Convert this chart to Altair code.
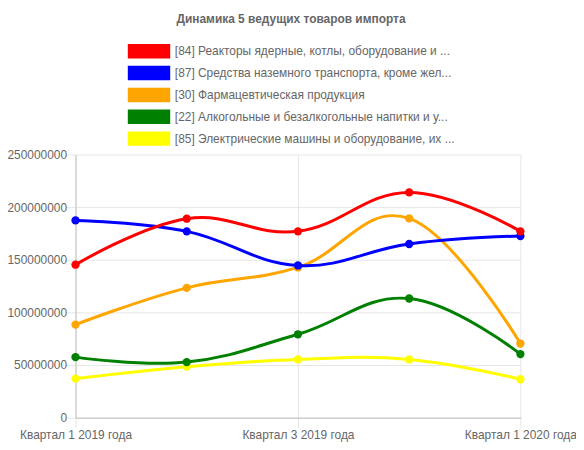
import altair as alt
import pandas as pd

quarters = ["Квартал 1 2019 года", "Квартал 2 2019 года", "Квартал 3 2019 года",
            "Квартал 4 2019 года", "Квартал 1 2020 года"]
shown_quarters = [quarters[0], quarters[2], quarters[4]]
series_names = [
    "[84] Реакторы ядерные, котлы, оборудование и ...",
    "[87] Средства наземного транспорта, кроме жел...",
    "[30] Фармацевтическая продукция",
    "[22] Алкогольные и безалкогольные напитки и у...",
    "[85] Электрические машины и оборудование, их ...",
]
colors = ["#ff0000", "#0000ff", "#ffa500", "#008000", "#ffff00"]
reactors = [145300000, 189000000, 177000000, 214000000, 177000000]
vehicles = [187400000, 177000000, 144600000, 165000000, 172600000]
pharma = [88400000, 123300000, 142700000, 189300000, 70400000]
drinks = [57500000, 52800000, 79200000, 113200000, 60400000]
electric = [37100000, 48400000, 55300000, 55300000, 36500000]
y_ticks = [0, 50000000, 100000000, 150000000, 200000000, 250000000]

all_series = [reactors, vehicles, pharma, drinks, electric]
rows = []
for name, vals in zip(series_names, all_series):
    for q, v in zip(quarters, vals):
        rows.append({"quarter": q, "value": v, "series": name})
df = pd.DataFrame(rows)

FONT = "Liberation Sans"
GRID = "#e6e6e6"
DOMAIN = "#bfbfbf"
TXT = "#666666"

x_enc = alt.X("quarter:N", sort=quarters, title=None,
              scale=alt.Scale(type="point", padding=0),
              axis=alt.Axis(values=shown_quarters, labelAngle=0, tickSize=10,
                            tickColor=GRID, gridColor=GRID, grid=True,
                            domainColor=DOMAIN, labelColor=TXT, labelFont=FONT,
                            labelFontSize=12, labelPadding=2))
y_enc = alt.Y("value:Q", title=None,
              scale=alt.Scale(domain=[0, 250000000], nice=False),
              axis=alt.Axis(values=y_ticks, format="d", tickSize=9,
                            tickColor=GRID, gridColor=GRID, grid=True,
                            domainColor=DOMAIN, labelColor=TXT, labelFont=FONT,
                            labelFontSize=12, labelPadding=0))
color_scale = alt.Scale(domain=series_names, range=colors)

legend = alt.Legend(orient="none", legendX=67, legendY=-111, direction="vertical",
                    title=None, symbolType="M-3.05,-1.04H3.05V1.04H-3.05Z",
                    symbolSize=196, symbolStrokeWidth=0, symbolOpacity=1,
                    labelFont=FONT, labelFontSize=12, labelColor=TXT,
                    labelLimit=400, labelOffset=19, rowPadding=6)

color_enc = alt.Color("series:N", scale=color_scale, legend=legend)

layers = []
for name in reversed(series_names):
    base = alt.Chart(df).transform_filter(alt.datum.series == name)
    pts = base.mark_point(filled=True, size=70, opacity=1).encode(
        x=x_enc, y=y_enc, color=color_enc)
    line = base.mark_line(interpolate="cardinal", tension=-0.2, strokeWidth=3).encode(
        x=x_enc, y=y_enc, color=color_enc)
    layers += [pts, line]

chart = alt.layer(*layers).properties(
    width=448, height=265,
    title=alt.TitleParams("Динамика 5 ведущих товаров импорта", font=FONT,
                          fontSize=12, fontWeight="bold", color=TXT,
                          anchor="middle", offset=18, dx=-7),
    autosize=alt.AutoSizeParams(type="none"),
    padding={"left": 68, "top": 146, "right": 56, "bottom": 25},
).configure_view(stroke=None)

chart.save("out.html", embed_options={"renderer": "svg", "actions": False})
